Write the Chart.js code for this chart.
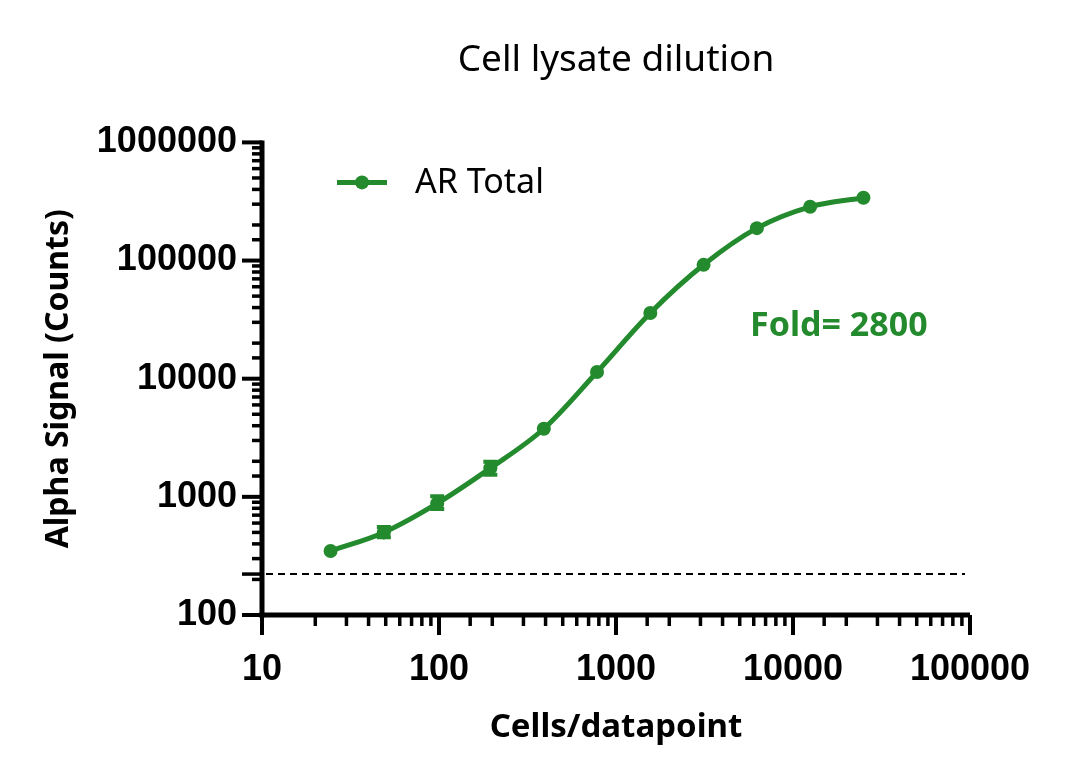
<!DOCTYPE html>
<html><head><meta charset="utf-8">
<script src="https://cdn.jsdelivr.net/npm/chart.js@4"></script>
<style>html,body{margin:0;padding:0;background:#fff}#wrap{width:1080px;height:783px;position:relative}</style>
</head><body><div id="wrap"><canvas id="c"></canvas></div>
<script>
const chartTitle = 'Cell lysate dilution';
const seriesLabel = 'AR Total';
const xAxisTitle = 'Cells/datapoint';
const yAxisTitle = 'Alpha Signal (Counts)';
const cellsPerPoint = [24.4, 48.8, 97.7, 195, 391, 781, 1563, 3125, 6250, 12500, 25000];
const alphaSignal   = [348, 500, 880, 1750, 3770, 11400, 36000, 92000, 188000, 285000, 340000];
const errLow        = [null, 455, 790, 1540, null, null, null, null, null, null, null];
const errHigh       = [null, 555, 1010, 1980, null, null, null, null, null, null, null];
const baselineSignal = 222;
const foldText = 'Fold= 2800';
const xTickLabels = ['10', '100', '1000', '10000', '100000'];
const yTickLabels = ['100', '1000', '10000', '100000', '1000000'];

const GREEN = '#238B2D';
const isMajor = v => Math.abs(Math.log10(v) - Math.round(Math.log10(v))) < 1e-9;

const decorPlugin = {
  id: 'decor',
  afterDatasetsDraw(chart) {
    const ctx = chart.ctx, xs = chart.scales.x, ys = chart.scales.y;
    ctx.save();
    ctx.strokeStyle = GREEN;
    for (let i = 0; i < cellsPerPoint.length; i++) {
      if (errLow[i] == null) continue;
      const x = xs.getPixelForValue(cellsPerPoint[i]);
      const yl = ys.getPixelForValue(errLow[i]);
      const yh = ys.getPixelForValue(errHigh[i]);
      ctx.lineWidth = 3;
      ctx.beginPath(); ctx.moveTo(x, yl); ctx.lineTo(x, yh); ctx.stroke();
      ctx.lineWidth = 4;
      ctx.beginPath(); ctx.moveTo(x - 7, yl); ctx.lineTo(x + 7, yl);
      ctx.moveTo(x - 7, yh); ctx.lineTo(x + 7, yh); ctx.stroke();
    }
    ctx.restore();
  },
  afterDraw(chart) {
    const ctx = chart.ctx, xs = chart.scales.x, ys = chart.scales.y;
    const {left, right, top, bottom} = chart.chartArea;
    ctx.save();
    ctx.strokeStyle = '#000';
    ctx.lineCap = 'butt';
    const yb = ys.getPixelForValue(baselineSignal);
    ctx.lineWidth = 2;
    ctx.setLineDash([7, 5]);
    ctx.beginPath(); ctx.moveTo(left + 4, yb); ctx.lineTo(right - 5, yb); ctx.stroke();
    ctx.setLineDash([]);
    ctx.lineWidth = 3.5;
    ctx.beginPath(); ctx.moveTo(left - 20, yb); ctx.lineTo(left, yb); ctx.stroke();
    ctx.lineWidth = 5;
    ctx.beginPath(); ctx.moveTo(left, top - 2); ctx.lineTo(left, bottom + 2.5); ctx.stroke();
    ctx.beginPath(); ctx.moveTo(left - 2.5, bottom); ctx.lineTo(right, bottom); ctx.stroke();
    ys.ticks.forEach(t => {
      const p = ys.getPixelForValue(t.value);
      const mj = isMajor(t.value);
      ctx.lineWidth = mj ? 4 : 3.5;
      ctx.beginPath(); ctx.moveTo(left - (mj ? 20 : 10), p); ctx.lineTo(left, p); ctx.stroke();
    });
    xs.ticks.forEach(t => {
      const p = xs.getPixelForValue(t.value);
      const mj = isMajor(t.value);
      ctx.lineWidth = mj ? 4 : 3.5;
      ctx.beginPath(); ctx.moveTo(p, bottom); ctx.lineTo(p, bottom + (mj ? 20 : 11)); ctx.stroke();
    });
    const lx = left + 75, ly = top + 40;
    ctx.strokeStyle = GREEN; ctx.fillStyle = GREEN; ctx.lineWidth = 5;
    ctx.beginPath(); ctx.moveTo(lx, ly); ctx.lineTo(lx + 50, ly); ctx.stroke();
    ctx.beginPath(); ctx.arc(lx + 25, ly, 7, 0, Math.PI * 2); ctx.fill();
    ctx.fillStyle = '#000';
    ctx.font = '34px "Noto Sans"';
    ctx.textBaseline = 'middle'; ctx.textAlign = 'left';
    ctx.fillText(seriesLabel, lx + 78, ly + 1);
    ctx.fillStyle = GREEN;
    ctx.font = 'bold 34px "Noto Sans"';
    ctx.fillText(foldText, left + 488, top + 184);
    ctx.restore();
  }
};

new Chart(document.getElementById('c'), {
  type: 'line',
  data: {
    datasets: [{
      label: seriesLabel,
      data: cellsPerPoint.map((x, i) => ({x, y: alphaSignal[i]})),
      borderColor: GREEN,
      backgroundColor: GREEN,
      borderWidth: 5,
      pointRadius: 7,
      pointHoverRadius: 7,
      pointBorderWidth: 0,
      cubicInterpolationMode: 'monotone',
      fill: false
    }]
  },
  options: {
    responsive: true,
    maintainAspectRatio: false,
    animation: false,
    layout: {padding: {left: 0, right: 110, top: 0, bottom: 0}},
    plugins: {
      legend: {display: false},
      tooltip: {enabled: false},
      title: {
        display: true, text: chartTitle, color: '#000', fullSize: false,
        font: {family: 'Noto Sans', size: 37, weight: 'normal'},
        padding: {top: 38, bottom: 60}
      }
    },
    scales: {
      x: {
        type: 'logarithmic', min: 10, max: 100000,
        grid: {display: true, drawOnChartArea: false, drawTicks: false, color: 'transparent'},
        border: {display: false},
        ticks: {
          autoSkip: false, maxRotation: 0, padding: 33, color: '#000',
          font: {family: 'Liberation Sans', size: 36, weight: 'bold'},
          callback: v => xTickLabels.includes(String(v)) ? String(v) : ''
        },
        title: {display: true, text: xAxisTitle, color: '#000',
          font: {family: 'Noto Sans', size: 33, weight: 'bold'}, padding: {top: 0, bottom: 36}},
        afterFit: s => { s.height = 168; }
      },
      y: {
        type: 'logarithmic', min: 100, max: 1000000,
        grid: {display: true, drawOnChartArea: false, drawTicks: false, color: 'transparent'},
        border: {display: false},
        ticks: {
          autoSkip: false, padding: 25, color: '#000',
          font: {family: 'Liberation Sans', size: 36, weight: 'bold'},
          callback: v => yTickLabels.includes(String(v)) ? String(v) : ''
        },
        title: {display: true, text: yAxisTitle, color: '#000',
          font: {family: 'Noto Sans', size: 32, weight: 'bold'}, padding: {top: 40, bottom: 0}},
        afterFit: s => { s.width = 262; }
      }
    }
  },
  plugins: [decorPlugin]
});
</script>
</body></html>
